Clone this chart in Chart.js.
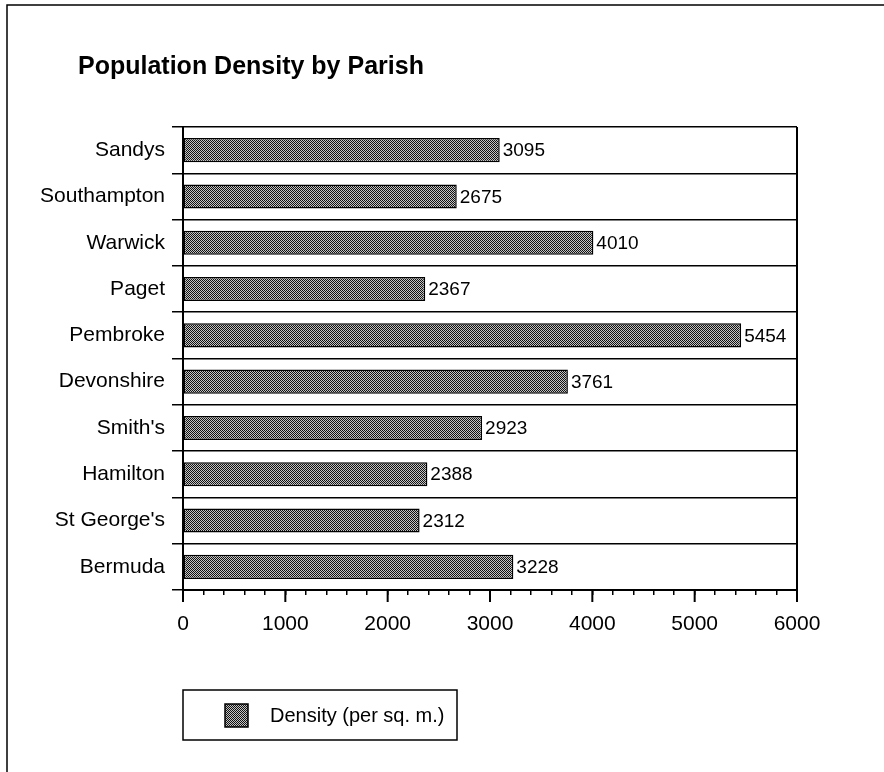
<!DOCTYPE html>
<html>
<head>
<meta charset="utf-8">
<script src="https://cdn.jsdelivr.net/npm/chart.js@4.4.1/dist/chart.umd.min.js"></script>
<style>
  html, body { margin: 0; padding: 0; background: #fff; }
  #wrap { width: 884px; height: 772px; position: relative; }
</style>
</head>
<body>
<div id="wrap"><canvas id="chart" width="884" height="772"></canvas></div>
<script>
const parishes = ["Sandys", "Southampton", "Warwick", "Paget", "Pembroke", "Devonshire", "Smith's", "Hamilton", "St George's", "Bermuda"];
const density = [3095, 2675, 4010, 2367, 5454, 3761, 2923, 2388, 2312, 3228];
const seriesLabel = "Density (per sq. m.)";
const chartTitle = "Population Density by Parish";
const xMax = 6000;

const FONT = '"Liberation Sans", Arial, Helvetica, sans-serif';

// stippled fill like the old mac chart
const makePattern = () => {
  const c = document.createElement("canvas");
  c.width = 2; c.height = 2;
  const g = c.getContext("2d");
  g.fillStyle = "#111";
  g.fillRect(0, 0, 2, 2);
  g.fillStyle = "#c4c4c4";
  g.fillRect(1, 0, 1, 1);
  g.fillRect(0, 1, 1, 1);
  return g.createPattern(c, "repeat");
};
const stipple = makePattern();

const decor = {
  id: "decor",
  afterDatasetsDraw(chart) {
    const ctx = chart.ctx;
    ctx.save();
    ctx.fillStyle = "#000";
    ctx.font = "19px " + FONT;
    ctx.textBaseline = "middle";
    ctx.textAlign = "left";
    chart.getDatasetMeta(0).data.forEach((bar, i) => {
      ctx.fillText(String(density[i]), bar.x + 3, bar.y + 1);
    });
    ctx.restore();
  },
  afterDraw(chart) {
    const ctx = chart.ctx;
    const a = chart.chartArea;
    const xs = chart.scales.x;
    ctx.save();
    ctx.strokeStyle = "#000";
    // page frame
    ctx.lineWidth = 1.5;
    ctx.beginPath();
    ctx.moveTo(7, 772); ctx.lineTo(7, 5); ctx.lineTo(884, 5);
    ctx.stroke();
    // right edge of plot
    ctx.lineWidth = 2;
    ctx.beginPath();
    ctx.moveTo(a.right, a.top); ctx.lineTo(a.right, a.bottom);
    ctx.stroke();
    // longer major ticks
    for (let v = 0; v <= xMax; v += 1000) {
      const px = xs.getPixelForValue(v);
      ctx.beginPath();
      ctx.moveTo(px, a.bottom); ctx.lineTo(px, a.bottom + 12);
      ctx.stroke();
    }
    // title
    ctx.fillStyle = "#000";
    ctx.font = "bold 25px " + FONT;
    ctx.textAlign = "left";
    ctx.textBaseline = "alphabetic";
    ctx.fillText(chartTitle, 78, 74);
    // legend box
    ctx.lineWidth = 1.5;
    ctx.strokeRect(183, 690, 274, 50);
    ctx.fillStyle = stipple;
    ctx.fillRect(225, 704, 23, 23);
    ctx.strokeRect(225, 704, 23, 23);
    ctx.fillStyle = "#000";
    ctx.font = "20px " + FONT;
    ctx.textBaseline = "middle";
    ctx.fillText(chart.data.datasets[0].label, 270, 716);
    ctx.restore();
  }
};

new Chart(document.getElementById("chart"), {
  type: "bar",
  data: {
    labels: parishes,
    datasets: [{
      label: seriesLabel,
      data: density,
      backgroundColor: stipple,
      borderColor: "#000",
      borderWidth: 1.5,
      borderSkipped: false,
      categoryPercentage: 1,
      barPercentage: 0.52
    }]
  },
  plugins: [decor],
  options: {
    indexAxis: "y",
    responsive: false,
    animation: false,
    devicePixelRatio: 1,
    layout: { padding: { left: 0, top: 127, right: 87, bottom: 142 } },
    plugins: {
      legend: { display: false },
      title: { display: false },
      tooltip: { enabled: false }
    },
    scales: {
      y: {
        afterFit: (s) => { s.width = 183; },
        grid: { color: "#000", lineWidth: 1.5, tickLength: 11, offset: true },
        border: { display: true, color: "#000", width: 2 },
        ticks: { color: "#000", padding: 7, font: { family: FONT, size: 21 } }
      },
      x: {
        min: 0,
        max: xMax,
        afterFit: (s) => { s.height = 40; },
        grid: { drawOnChartArea: false, color: "#000", lineWidth: 1.5, tickLength: 5 },
        border: { display: true, color: "#000", width: 2 },
        ticks: {
          stepSize: 200,
          autoSkip: false,
          maxRotation: 0,
          color: "#000",
          padding: 17,
          font: { family: FONT, size: 21 },
          callback: (v) => (v % 1000 === 0 ? String(v) : "")
        }
      }
    }
  }
});
</script>
</body>
</html>
